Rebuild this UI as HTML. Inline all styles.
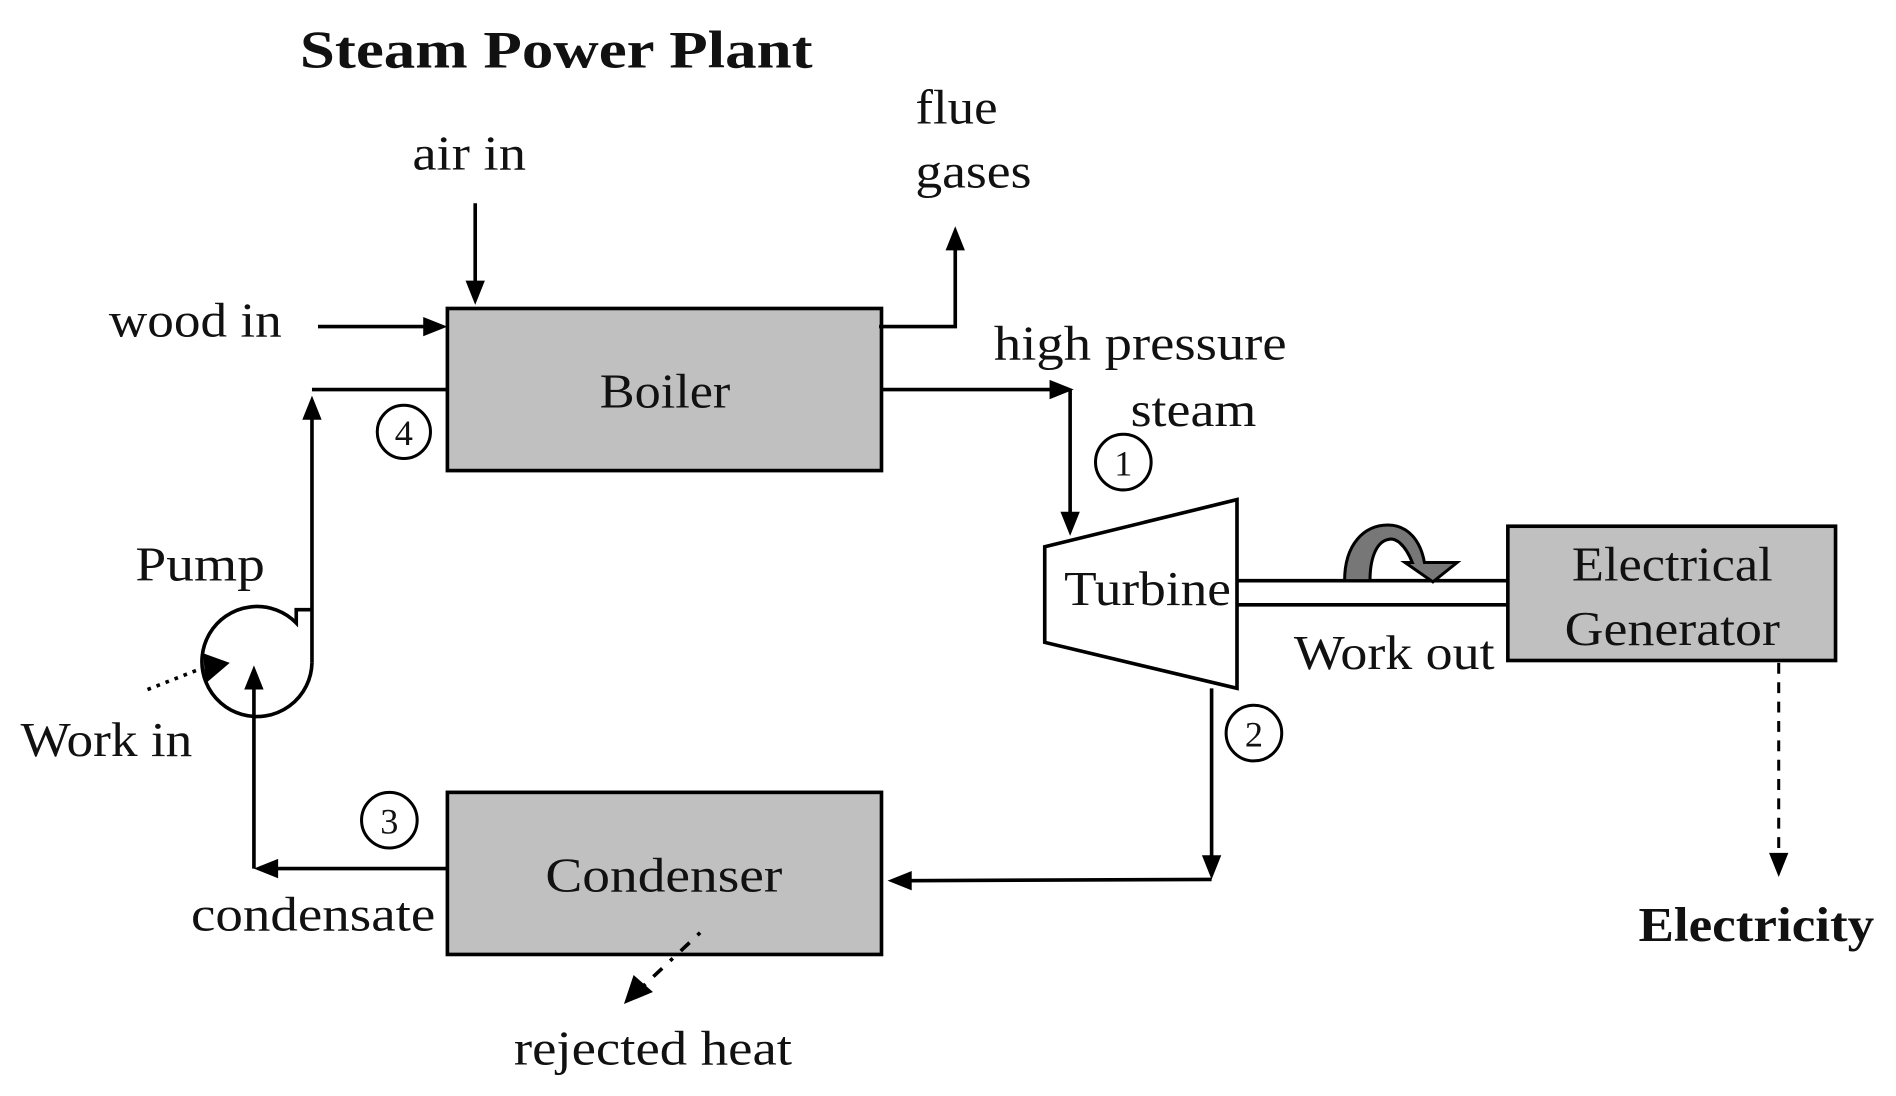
<!DOCTYPE html>
<html><head><meta charset="utf-8"><style>
html,body{margin:0;padding:0;background:#fff;}
svg{display:block;}
text{font-family:"Liberation Serif",serif;fill:#111;}
</style></head><body>
<svg width="1896" height="1096" viewBox="0 0 1568 906" preserveAspectRatio="none" xmlns="http://www.w3.org/2000/svg">
<defs>
<marker id="ah" viewBox="0 0 10 10" refX="10" refY="5" markerWidth="7" markerHeight="7" markerUnits="userSpaceOnUse" orient="auto">
</marker>
</defs>
<g stroke="#000" stroke-width="3" fill="none">
<!-- boxes -->
<rect x="370" y="255" width="359" height="134" fill="#c0c0c0"/>
<rect x="370" y="655" width="359" height="134" fill="#c0c0c0"/>
<rect x="1247" y="435" width="271" height="111" fill="#c0c0c0"/>
<polygon points="864,452 1023,413 1023,569 864,531" fill="#fff"/>
<!-- shaft -->
<line x1="1023" y1="480" x2="1247" y2="480"/>
<line x1="1023" y1="500" x2="1247" y2="500"/>
<!-- air in -->
<line x1="393" y1="168" x2="393" y2="235"/>
<!-- wood in -->
<line x1="263" y1="270" x2="352" y2="270"/>
<!-- flue -->
<polyline points="727,270 790,270 790,205"/>
<!-- boiler to turbine -->
<polyline points="729,322 870,322"/>
<polyline points="885,322 885,425"/>
<!-- turbine to condenser -->
<polyline points="1002,569 1002,710"/>
<polyline points="1002,727 752,728"/>
<!-- condenser to pump -->
<polyline points="370,718 228,718"/>
<line x1="210" y1="718" x2="210" y2="568"/>
<!-- pump to boiler -->
<polyline points="258,548 258,345"/>
<polyline points="258,322 370,322"/>
<!-- pump -->
<path d="M258,548 A45.5,45.5 0 1 1 245,515 L245,504 L258,504"/>
<!-- numbered circles -->
<circle cx="334" cy="357" r="22" stroke-width="2.5"/>
<circle cx="929" cy="382" r="23" stroke-width="2.5"/>
<circle cx="1037" cy="606" r="23" stroke-width="2.5"/>
<circle cx="322" cy="678" r="23" stroke-width="2.5"/>
<!-- dashed electricity -->
<line x1="1471" y1="548" x2="1471" y2="705" stroke-dasharray="9,7" stroke-width="2.5"/>
<!-- work in dotted -->
<line x1="122" y1="570" x2="168" y2="552" stroke-dasharray="3,5" stroke-width="3"/>
<!-- rejected heat -->
<line x1="579" y1="771" x2="530" y2="817" stroke-dasharray="3,9,10,9" stroke-width="3"/>
</g>
<g fill="#000">
<polygon points="385,232 401,232 393,252"/>
<polygon points="350,262 350,278 370,270"/>
<polygon points="782,207 798,207 790,187"/>
<polygon points="868,314 868,330 888,322"/>
<polygon points="877,423 893,423 885,443"/>
<polygon points="994,707 1010,707 1002,727"/>
<polygon points="754,720 754,736 734,728"/>
<polygon points="230,710 230,726 210,718"/>
<polygon points="202,570 218,570 210,550"/>
<polygon points="250,347 266,347 258,327"/>
<polygon points="1463,705 1479,705 1471,725"/>
<polygon points="168,540 190,548 170,565"/>
<polygon points="524,806 540,820 516,830"/>
</g>
<!-- curved arrow -->
<path d="M1112,480 C1112,450 1128,434 1148,434 C1165,434 1175,448 1178,465 L1205,465 L1185,481 L1162,465 L1168,465 C1162,450 1154,444 1148,446 C1138,448 1133,462 1133,480 Z" fill="#777" stroke="#000" stroke-width="2.5"/>
<!-- text -->
<text x="248" y="56" font-size="44" font-weight="bold" textLength="424" lengthAdjust="spacingAndGlyphs">Steam Power Plant</text>
<text x="341" y="140" font-size="40" textLength="94" lengthAdjust="spacingAndGlyphs">air in</text>
<text x="757" y="102" font-size="40" textLength="68" lengthAdjust="spacingAndGlyphs">flue</text>
<text x="757" y="155" font-size="40" textLength="96" lengthAdjust="spacingAndGlyphs">gases</text>
<text x="90" y="278" font-size="40" textLength="143" lengthAdjust="spacingAndGlyphs">wood in</text>
<text x="496" y="337" font-size="40" textLength="108" lengthAdjust="spacingAndGlyphs">Boiler</text>
<text x="822" y="297" font-size="40" textLength="242" lengthAdjust="spacingAndGlyphs">high pressure</text>
<text x="935" y="352" font-size="40" textLength="104" lengthAdjust="spacingAndGlyphs">steam</text>
<text x="880" y="500" font-size="40" textLength="138" lengthAdjust="spacingAndGlyphs">Turbine</text>
<text x="1300" y="480" font-size="40" textLength="166" lengthAdjust="spacingAndGlyphs">Electrical</text>
<text x="1294" y="533" font-size="40" textLength="178" lengthAdjust="spacingAndGlyphs">Generator</text>
<text x="1070" y="553" font-size="40" textLength="166" lengthAdjust="spacingAndGlyphs">Work out</text>
<text x="112" y="480" font-size="40" textLength="107" lengthAdjust="spacingAndGlyphs">Pump</text>
<text x="17" y="625" font-size="40" textLength="142" lengthAdjust="spacingAndGlyphs">Work in</text>
<text x="451" y="737" font-size="40" textLength="196" lengthAdjust="spacingAndGlyphs">Condenser</text>
<text x="158" y="769" font-size="40" textLength="202" lengthAdjust="spacingAndGlyphs">condensate</text>
<text x="425" y="880" font-size="40" textLength="230" lengthAdjust="spacingAndGlyphs">rejected heat</text>
<text x="1355" y="778" font-size="40" font-weight="bold" textLength="195" lengthAdjust="spacingAndGlyphs">Electricity</text>
<g font-size="30" text-anchor="middle">
<text x="334" y="368">4</text>
<text x="929" y="393">1</text>
<text x="1037" y="617">2</text>
<text x="322" y="689">3</text>
</g>
</svg>
</body></html>
